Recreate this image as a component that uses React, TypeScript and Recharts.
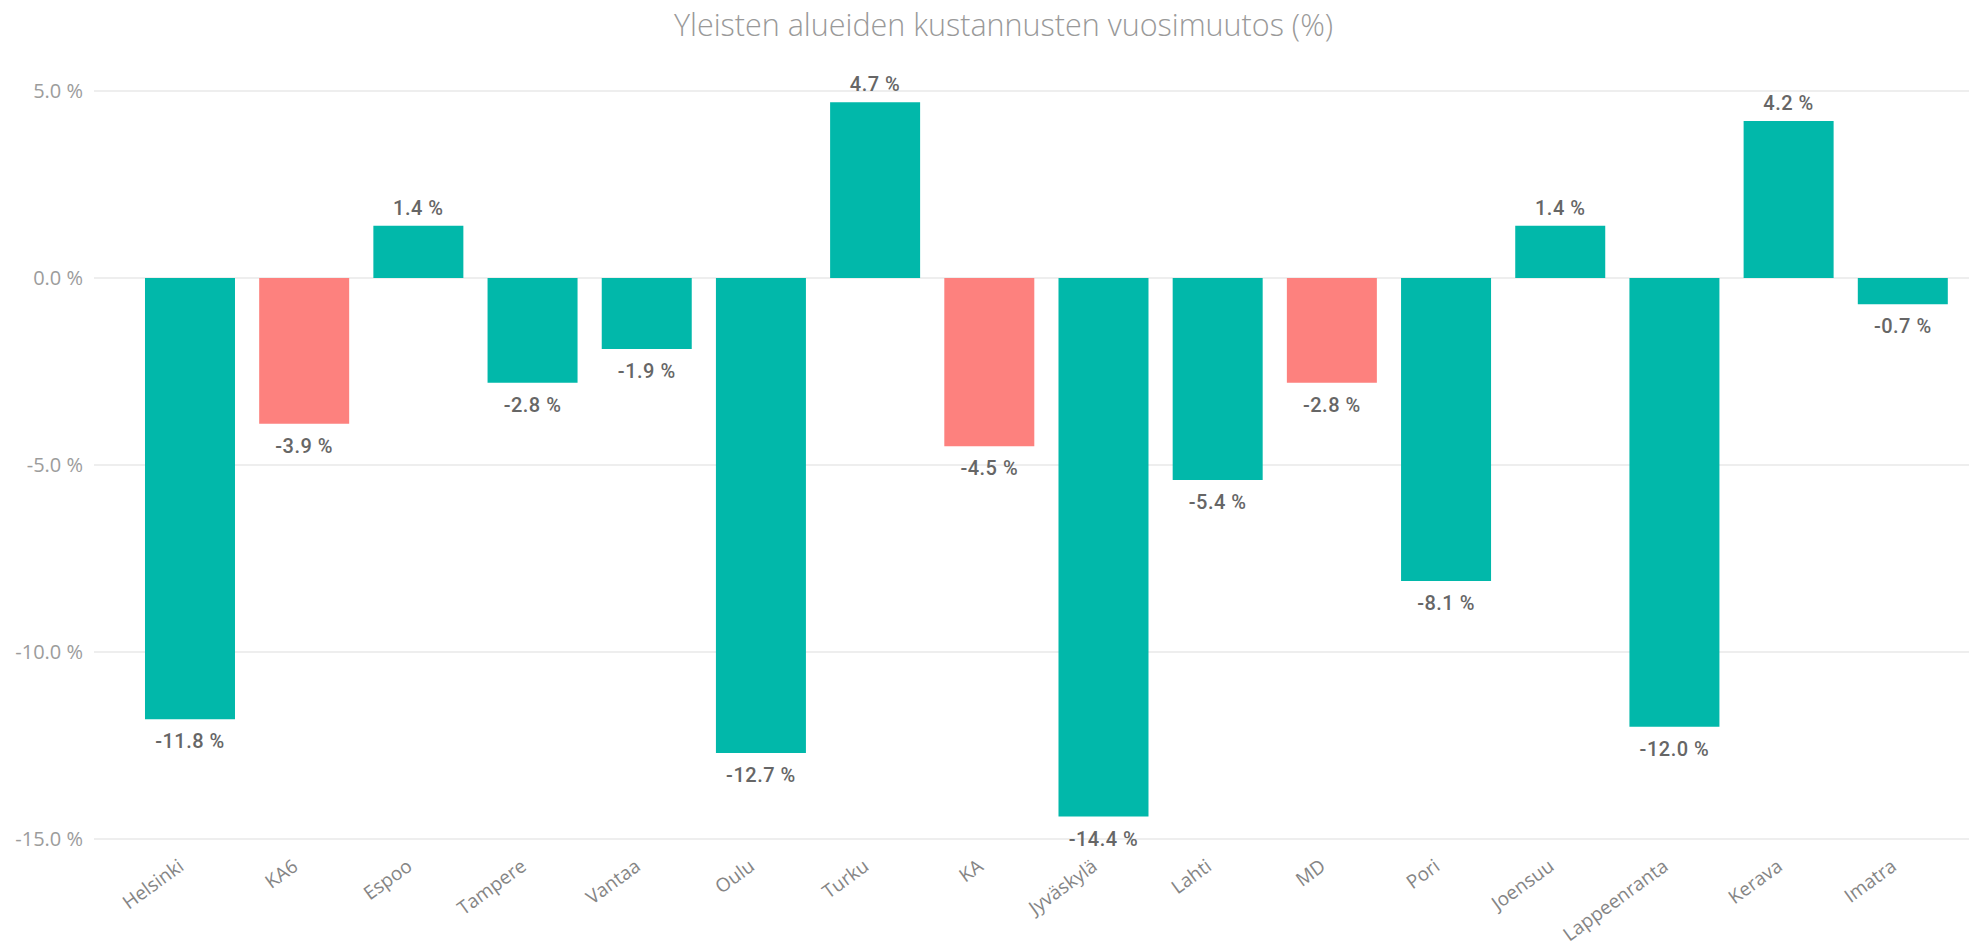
import { BarChart, Bar, XAxis, YAxis, CartesianGrid, Cell, LabelList } from 'recharts';

const cities = [
  'Helsinki', 'KA6', 'Espoo', 'Tampere', 'Vantaa', 'Oulu', 'Turku', 'KA',
  'Jyväskylä', 'Lahti', 'MD', 'Pori', 'Joensuu', 'Lappeenranta', 'Kerava', 'Imatra',
];
const changes = [-11.8, -3.9, 1.4, -2.8, -1.9, -12.7, 4.7, -4.5, -14.4, -5.4, -2.8, -8.1, 1.4, -12.0, 4.2, -0.7];
// averages are drawn in red
const averages = ['KA6', 'KA', 'MD'];
const yTicks = [-15, -10, -5, 0, 5];

const data = cities.map((city, i) => ({ city, change: changes[i] }));

const fmt = (v: number) => `${v.toFixed(1)} %`;

function CityTick(props: any) {
  const { x, y, payload } = props;
  return (
    <g transform={`translate(${x - 5},${y + 30})`}>
      <text textAnchor="end" transform="rotate(-36)" fill="#858585" fontSize={19} fontFamily="'Open Sans', sans-serif">
        {payload.value}
      </text>
    </g>
  );
}

function ValueLabel(props: any) {
  const { x, y, width, height, value } = props;
  const top = Math.min(y, y + height);
  const bottom = Math.max(y, y + height);
  const cy = value >= 0 ? top - 18 : bottom + 22;
  return (
    <text
      x={x + width / 2}
      y={cy}
      textAnchor="middle"
      dominantBaseline="central"
      fill="#666"
      fontSize={20}
      fontWeight={500}
      letterSpacing={0.5}
      fontFamily="Roboto, sans-serif"
    >
      {fmt(value)}
    </text>
  );
}

export default function App() {
  return (
    <div style={{ position: 'absolute', left: 0, top: 0, width: 1973, height: 948, background: '#fff' }}>
      <div
        style={{
          position: 'absolute',
          left: 17,
          width: 1973,
          top: 3,
          textAlign: 'center',
          fontFamily: "'Open Sans', sans-serif",
          fontWeight: 300,
          fontSize: 30.5,
          color: '#999',
        }}
      >
        Yleisten alueiden kustannusten vuosimuutos (%)
      </div>
      <BarChart
        width={1973}
        height={948}
        data={data}
        margin={{ top: 91, right: 4, bottom: 9, left: 0 }}
        barCategoryGap="10.5%"
      >
        <CartesianGrid vertical={false} stroke="#e9e9e9" strokeWidth={1.5} />
        <XAxis
          dataKey="city"
          interval={0}
          height={100}
          axisLine={false}
          tickLine={false}
          tickSize={0}
          tickMargin={0}
          padding={{ left: 39, right: 9 }}
          tick={<CityTick />}
        />
        <YAxis
          width={94}
          domain={[-15, 5]}
          ticks={yTicks}
          axisLine={false}
          tickLine={false}
          tickSize={0}
          tickMargin={11}
          tickFormatter={fmt}
          tick={{ fill: '#9c9c9c', fontSize: 20, fontFamily: "'Open Sans', sans-serif" }}
        />
        <Bar dataKey="change" isAnimationActive={false}>
          {data.map((d) => (
            <Cell key={d.city} fill={averages.includes(d.city) ? '#FD817E' : '#01B8AA'} />
          ))}
          <LabelList dataKey="change" content={<ValueLabel />} />
        </Bar>
      </BarChart>
    </div>
  );
}
